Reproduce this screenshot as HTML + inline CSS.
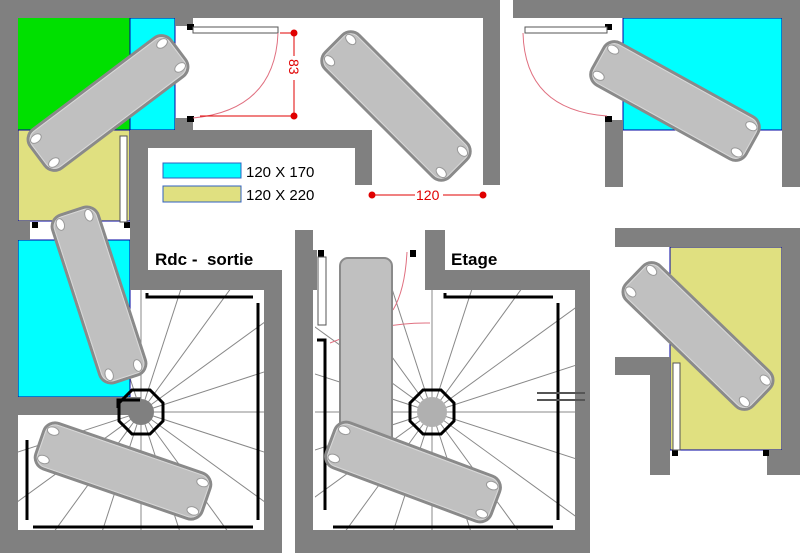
<!DOCTYPE html>
<html><head><meta charset="utf-8"><style>
html,body{margin:0;padding:0;background:#fff;width:800px;height:553px;overflow:hidden;}
svg{display:block;}
text{font-family:"Liberation Sans",sans-serif;}
</style></head><body>
<svg width="800" height="553" viewBox="0 0 800 553" xmlns="http://www.w3.org/2000/svg">
<defs>
<clipPath id="c1"><rect x="18" y="290" width="246" height="240"/></clipPath>
<clipPath id="c2"><rect x="315" y="290" width="260" height="240"/></clipPath>
<g id="bed">
<rect x="-88" y="-24" width="176" height="48" rx="12" fill="#c0c0c0" stroke="#8a8a8a" stroke-width="3"/>
<rect x="-86" y="-22" width="172" height="44" rx="10" fill="none" stroke="#d8d8d8" stroke-width="1"/>
<ellipse cx="-79" cy="-15" rx="6" ry="4" fill="#fff" stroke="#999"/>
<ellipse cx="-79" cy="15" rx="6" ry="4" fill="#fff" stroke="#999"/>
<ellipse cx="79" cy="-15" rx="6" ry="4" fill="#fff" stroke="#999"/>
<ellipse cx="79" cy="15" rx="6" ry="4" fill="#fff" stroke="#999"/>
</g>
<g id="rays" stroke="#888" stroke-width="1">
<line x1="0" y1="0" x2="400" y2="0" transform="rotate(0)"/>
<line x1="0" y1="0" x2="400" y2="0" transform="rotate(18)"/>
<line x1="0" y1="0" x2="400" y2="0" transform="rotate(36)"/>
<line x1="0" y1="0" x2="400" y2="0" transform="rotate(54)"/>
<line x1="0" y1="0" x2="400" y2="0" transform="rotate(72)"/>
<line x1="0" y1="0" x2="400" y2="0" transform="rotate(90)"/>
<line x1="0" y1="0" x2="400" y2="0" transform="rotate(108)"/>
<line x1="0" y1="0" x2="400" y2="0" transform="rotate(126)"/>
<line x1="0" y1="0" x2="400" y2="0" transform="rotate(144)"/>
<line x1="0" y1="0" x2="400" y2="0" transform="rotate(162)"/>
<line x1="0" y1="0" x2="400" y2="0" transform="rotate(180)"/>
<line x1="0" y1="0" x2="400" y2="0" transform="rotate(198)"/>
<line x1="0" y1="0" x2="400" y2="0" transform="rotate(216)"/>
<line x1="0" y1="0" x2="400" y2="0" transform="rotate(234)"/>
<line x1="0" y1="0" x2="400" y2="0" transform="rotate(252)"/>
<line x1="0" y1="0" x2="400" y2="0" transform="rotate(270)"/>
<line x1="0" y1="0" x2="400" y2="0" transform="rotate(288)"/>
<line x1="0" y1="0" x2="400" y2="0" transform="rotate(306)"/>
<line x1="0" y1="0" x2="400" y2="0" transform="rotate(324)"/>
<line x1="0" y1="0" x2="400" y2="0" transform="rotate(342)"/>
</g>
</defs>

<!-- stair rays -->
<g clip-path="url(#c1)"><use href="#rays" transform="translate(141,412)"/></g>
<g clip-path="url(#c2)"><use href="#rays" transform="translate(432,412)"/></g>

<!-- color zones -->
<rect x="18" y="18" width="112" height="112" fill="#00e000"/>
<rect x="130" y="18" width="45" height="112" fill="#00ffff" stroke="#0000a0"/>
<rect x="18" y="130" width="112" height="91" fill="#e0e080" stroke="#0000a0"/>
<rect x="18" y="240" width="112" height="157" fill="#00ffff" stroke="#0000a0"/>
<rect x="623" y="18" width="159" height="112" fill="#00ffff" stroke="#0000a0"/>
<rect x="670" y="247" width="112" height="203" fill="#e0e080" stroke="#0000a0"/>

<!-- walls -->
<g fill="#808080">
<rect x="0" y="0" width="500" height="18"/>
<rect x="0" y="0" width="18" height="553"/>
<rect x="175" y="18" width="18" height="8"/>
<rect x="175" y="118" width="18" height="30"/>
<rect x="130" y="130" width="242" height="18"/>
<rect x="355" y="130" width="17" height="55"/>
<rect x="483" y="0" width="17" height="185"/>
<rect x="130" y="130" width="18" height="160"/>
<rect x="130" y="270" width="152" height="20"/>
<rect x="264" y="270" width="18" height="283"/>
<rect x="0" y="530" width="282" height="23"/>
<rect x="18" y="221" width="12" height="19"/>
<rect x="18" y="397" width="123" height="18"/>
<circle cx="141" cy="412" r="13"/>
<rect x="295" y="230" width="18" height="323"/>
<rect x="313" y="250" width="4" height="40"/>
<rect x="425" y="230" width="20" height="60"/>
<rect x="425" y="270" width="165" height="20"/>
<rect x="575" y="270" width="15" height="283"/>
<rect x="295" y="530" width="295" height="23"/>
<rect x="513" y="0" width="287" height="18"/>
<rect x="605" y="120" width="18" height="67"/>
<rect x="782" y="0" width="18" height="187"/>
<rect x="615" y="228" width="185" height="19"/>
<rect x="782" y="228" width="18" height="247"/>
<rect x="615" y="357" width="55" height="18"/>
<rect x="650" y="357" width="20" height="118"/>
<rect x="767" y="450" width="33" height="25"/>
</g>
<circle cx="432" cy="412" r="15" fill="#b0b0b0"/>

<!-- jambs -->
<g fill="#000">
<rect x="187" y="24" width="7" height="6"/><rect x="187" y="116" width="7" height="6"/>
<rect x="32" y="222" width="6" height="6"/><rect x="124" y="222" width="6" height="6"/>
<rect x="605" y="24" width="7" height="6"/><rect x="605" y="116" width="7" height="6"/>
<rect x="318" y="250" width="6" height="7"/><rect x="410" y="250" width="6" height="7"/>
<rect x="672" y="450" width="6" height="6"/><rect x="763" y="450" width="6" height="6"/>
</g>

<!-- doors -->
<g fill="#fff" stroke="#555" stroke-width="1">
<rect x="193" y="27" width="85" height="6"/>
<rect x="120" y="136" width="7" height="86"/>
<rect x="525" y="27" width="82" height="6"/>
<rect x="318" y="257" width="8" height="68"/>
<rect x="673" y="363" width="7" height="87"/>
</g>
<g fill="none" stroke="#e07080" stroke-width="1">
<path d="M278 33 Q275 110 193 118"/>
<path d="M523 33 Q525 110 607 116"/>
<path d="M407 252 Q405 290 393 310"/>
<path d="M330 343 Q380 322 430 323"/>
</g>

<!-- handrails -->
<g fill="none" stroke="#000" stroke-width="3">
<path d="M147 293 V297 H253"/><path d="M258 303 V520"/><path d="M33 527 H253"/><path d="M27 440 V520"/>
<path d="M118 408 V400 H140"/>
<path d="M445 293 V297 H553"/><path d="M558 303 V520"/><path d="M333 527 H553"/><path d="M325 348 V510"/><path d="M317 340 H325 V348"/>
</g>
<polygon points="132,390 150,390 163,403 163,421 150,434 132,434 119,421 119,403" fill="none" stroke="#000" stroke-width="3"/>
<polygon points="423,390 441,390 454,403 454,421 441,434 423,434 410,421 410,403" fill="none" stroke="#000" stroke-width="3"/>
<g stroke="#555" stroke-width="2"><line x1="537" y1="393" x2="585" y2="393"/><line x1="537" y1="400" x2="585" y2="400"/></g>

<!-- beds -->
<use href="#bed" transform="translate(108,103) rotate(-37)"/>
<use href="#bed" transform="translate(396,106) rotate(45)"/>
<use href="#bed" transform="translate(675,101) rotate(29)"/>
<use href="#bed" transform="translate(698,336) rotate(44)"/>
<use href="#bed" transform="translate(99,295) rotate(72)"/>
<rect x="340" y="258" width="52" height="190" rx="8" fill="#c0c0c0" stroke="#8a8a8a" stroke-width="2"/>
<use href="#bed" transform="translate(123,471) rotate(19)"/>
<use href="#bed" transform="translate(413,472) rotate(20.5)"/>

<!-- dimensions -->
<g stroke="#e00000" stroke-width="1" fill="#e00000">
<line x1="280" y1="33" x2="294" y2="33"/><line x1="200" y1="116" x2="294" y2="116"/>
<line x1="294" y1="33" x2="294" y2="116"/>
<circle cx="294" cy="33" r="3"/><circle cx="294" cy="116" r="3"/>
<line x1="372" y1="195" x2="483" y2="195"/>
<circle cx="372" cy="195" r="3"/><circle cx="483" cy="195" r="3"/>
</g>
<rect x="287" y="56" width="14" height="24" fill="#fff"/>
<text x="0" y="0" font-size="14" fill="#e00000" transform="translate(289,59) rotate(90)">83</text>
<rect x="415" y="188" width="28" height="14" fill="#fff"/>
<text x="416" y="200" font-size="14" fill="#e00000">120</text>

<!-- legend -->
<rect x="163" y="163" width="78" height="15" fill="#00ffff" stroke="#3060c0"/>
<rect x="163" y="186" width="78" height="16" fill="#e0e080" stroke="#3060c0"/>
<text x="246" y="177" font-size="15" fill="#000">120 X 170</text>
<text x="246" y="200" font-size="15" fill="#000">120 X 220</text>
<text x="155" y="265" font-size="17" font-weight="bold" fill="#000" xml:space="preserve">Rdc -  sortie</text>
<text x="451" y="265" font-size="17" font-weight="bold" fill="#000">Etage</text>
</svg>
</body></html>
